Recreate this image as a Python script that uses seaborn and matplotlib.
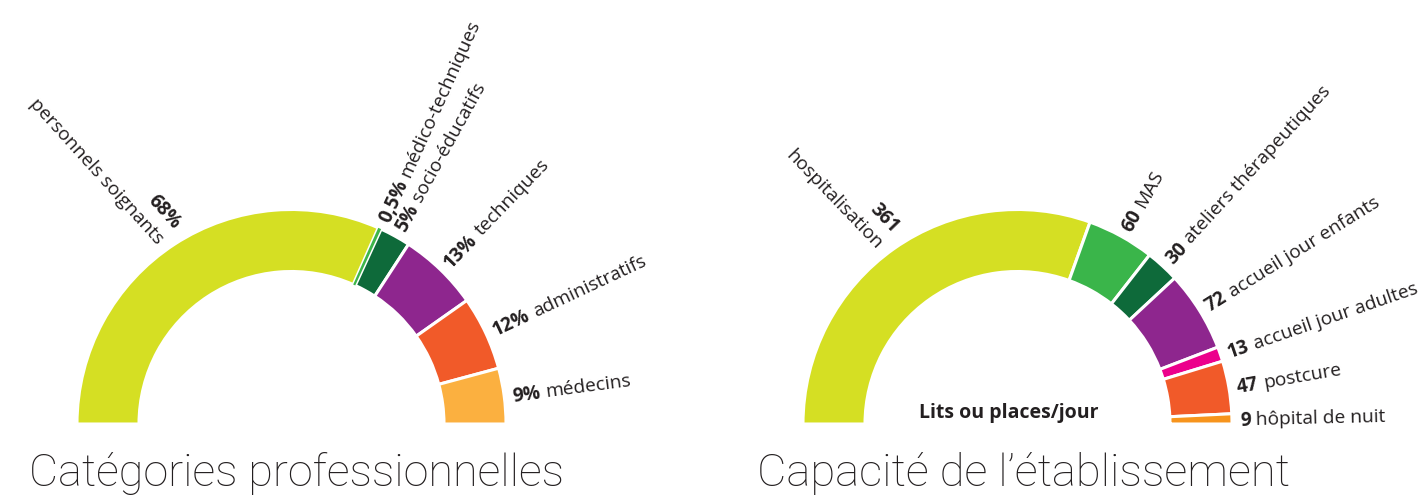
import numpy as np
import matplotlib
matplotlib.use("Agg")
import matplotlib.pyplot as plt
import seaborn as sns
from matplotlib import font_manager as fm

# ---------------- data ----------------
prof_values = [68, 0.5, 5, 13, 12, 9]
prof_nums = ["68%", "0,5%", "5%", "13%", "12%", "9%"]
prof_names = ["personnels soignants", "médico-techniques", "socio-éducatifs",
              "techniques", "administratifs", "médecins"]
prof_colors = ["#D5DF23", "#3DB54A", "#0E6A3A", "#8E268E", "#F15A29", "#FBB040"]
prof_title = "Catégories professionnelles"

cap_values = [361, 60, 30, 72, 13, 47, 9]
cap_nums = ["361", "60", "30", "72", "13", "47", "9"]
cap_names = ["hospitalisation", "MAS", "ateliers thérapeutiques",
             "accueil jour enfants", "accueil jour adultes", "postcure",
             "hôpital de nuit"]
cap_colors = ["#D5DF23", "#3AB54A", "#0E6A3A", "#8E268E", "#EC008C", "#F15A29", "#F7941D"]
cap_title = "Capacité de l’établissement"
cap_note = "Lits ou places/jour"

# ---------------- style ----------------
sns.set_theme(style="white")
names_avail = {f.name for f in fm.fontManager.ttflist}


def pick(cands, default="DejaVu Sans"):
    for c in cands:
        if c in names_avail:
            return c
    return default


label_font = pick(["Open Sans", "Noto Sans", "Lato"])
title_font = pick(["Roboto", "Liberation Sans Narrow", "Lato"])
plt.rcParams["font.family"] = [label_font, "DejaVu Sans"]
TXT = "#231F20"

W, H = 1421, 497
fig = plt.figure(figsize=(W / 100, H / 100), dpi=100)
ax = fig.add_axes([0, 0, 1, 1])
renderer = fig.canvas.get_renderer()

R = 214.5
BAND = 62
LEFT_TILT = 0.84  # left-side labels are a little less steep than radial


def text_width(s, **kw):
    t = ax.text(0, 0, s, **kw)
    w = t.get_window_extent(renderer).width
    t.remove()
    return w


# label font size fitted so that "9% médecins" is ~120 px long as in the reference
LFS = 13.0
_w = (text_width("9%", fontsize=LFS, fontweight="bold") + 0.28 * LFS * 100 / 72
      + text_width("médecins", fontsize=LFS))
LFS = LFS * 119.0 / _w


def half_donut(cx, cy, values, colors, nums, names):
    pal = sns.color_palette(colors)
    total = float(sum(values))
    wedges, _ = ax.pie(list(values) + [total], radius=R, center=(cx, cy),
                       startangle=180, counterclock=False,
                       colors=list(pal) + [(1, 1, 1, 0)],
                       wedgeprops=dict(width=BAND, edgecolor="white", linewidth=2.2))
    wedges[-1].set_visible(False)
    for wdg, v in zip(wedges[:-1], values):
        if v / total * 180.0 < 1.5:
            wdg.set_linewidth(0)
            wdg.set_zorder(wdg.get_zorder() + 1)

    fs_px = LFS * 100 / 72.0
    start = 180.0
    for v, num, name in zip(values, nums, names):
        span = v / total * 180.0
        mid = start - span / 2
        start -= span
        a = np.deg2rad(mid)
        if mid > 90:
            r = R + 12
            x, y = cx + r * np.cos(a), cy + r * np.sin(a)
            rot = (mid - 180) * LEFT_TILT
            rr = np.deg2rad(rot)
            px, py = -np.sin(rr), np.cos(rr)
            ax.text(x + px * 2, y + py * 2, num, rotation=rot, rotation_mode="anchor",
                    ha="right", va="bottom", fontsize=LFS, fontweight="bold", color=TXT)
            ax.text(x - px * 2, y - py * 2, name, rotation=rot, rotation_mode="anchor",
                    ha="right", va="top", fontsize=LFS, color=TXT)
        else:
            r = R + 8
            x, y = cx + r * np.cos(a), cy + r * np.sin(a)
            rot = mid
            rr = np.deg2rad(rot)
            ux, uy = np.cos(rr), np.sin(rr)
            px, py = -np.sin(rr), np.cos(rr)
            off = -0.36 * fs_px
            bx, by = x + px * off, y + py * off
            ax.text(bx, by, num, rotation=rot, rotation_mode="anchor",
                    ha="left", va="baseline", fontsize=LFS, fontweight="bold", color=TXT)
            w = text_width(num, fontsize=LFS, fontweight="bold") + 0.28 * fs_px
            ax.text(bx + ux * w, by + uy * w, name, rotation=rot, rotation_mode="anchor",
                    ha="left", va="baseline", fontsize=LFS, color=TXT)


half_donut(291.5, H - 424, prof_values, prof_colors, prof_nums, prof_names)
half_donut(1017.5, H - 424, cap_values, cap_colors, cap_nums, cap_names)

nfs = 13.0
nfs *= 178.0 / text_width(cap_note, fontsize=nfs, fontweight="bold")
ax.text(1009, H - 413, cap_note, ha="center", va="center", fontsize=nfs,
        fontweight="bold", color=TXT)

# titles, sized to the reference width
for x0, title, target in [(29, prof_title, 536), (757, cap_title, 533)]:
    fs = 33
    w = text_width(title, fontsize=fs, family=title_font, fontweight="light")
    fs *= target / w
    ax.text(x0, H - 486, title, ha="left", va="baseline", fontsize=fs,
            family=title_font, fontweight="light", color=TXT)

ax.set_xlim(0, W)
ax.set_ylim(0, H)
ax.set_aspect("equal", adjustable="box")
ax.axis("off")
fig.savefig("out.png", dpi=100, facecolor="white")
